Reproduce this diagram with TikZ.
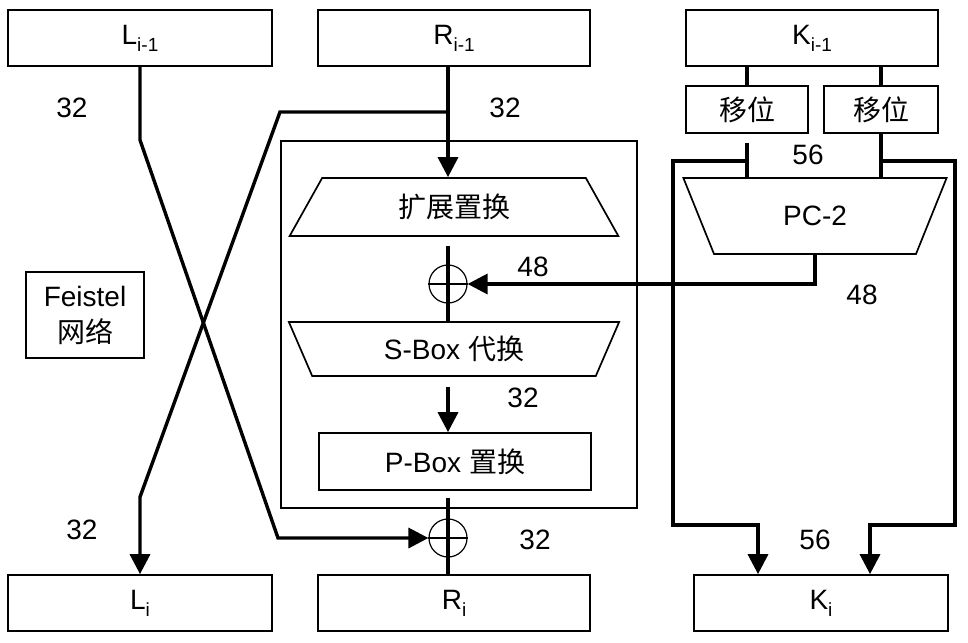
\documentclass[tikz,border=0pt]{standalone}
\usepackage{fontspec}
\setmainfont{Liberation Sans}
\newfontfamily\cjk{Noto Sans CJK SC}
\usetikzlibrary{arrows.meta,shapes.geometric}
\newcommand{\lbl}{\fontsize{28}{36}\selectfont}
\newcommand{\sbi}[1]{\raisebox{-7pt}{\fontsize{19}{19}\selectfont #1}}
\tikzset{
  box/.style={draw,line width=1.7pt,inner sep=0pt,font=\lbl},
  trap/.style={box,trapezium,trapezium stretches=true},
  wire/.style={line width=3.4pt},
  tip/.style={-{Triangle[width=20pt,length=20pt]}},
  num/.style={inner sep=0pt,font=\lbl},
  xor/.style={circle,draw,line width=1.2pt,minimum size=38pt,inner sep=0pt}
}

\begin{document}
\begin{tikzpicture}[x=1pt,y=-1pt]
  \useasboundingbox (0,0) rectangle (968,642);
  % halves and key
  \node[box,minimum width=264pt,minimum height=56pt] (Lprev) at (140,38) {L\sbi{i-1}};
  \node[box,minimum width=272pt,minimum height=56pt] (Rprev) at (454,38) {R\sbi{i-1}};
  \node[box,minimum width=252pt,minimum height=56pt] (Kprev) at (812,38) {K\sbi{i-1}};
  \node[box,minimum width=264pt,minimum height=56pt] (Li) at (140,603) {L\sbi{i}};
  \node[box,minimum width=272pt,minimum height=56pt] (Ri) at (454,603) {R\sbi{i}};
  \node[box,minimum width=254pt,minimum height=56pt] (Ki) at (821,603) {K\sbi{i}};
  \node[box,minimum width=118pt,minimum height=86pt,align=center] (feis) at (85,315) {Feistel\\{\cjk 网络}};
  % round function
  \node[box,minimum width=356pt,minimum height=367pt] (rnd) at (459,324.5) {};
  \node[trap,minimum width=329pt,minimum height=58pt,trapezium angle=62] (exp) at (454,207) {\cjk 扩展置换};
  \node[trap,shape border rotate=180,minimum width=331pt,minimum height=54pt,trapezium angle=66] (sbox) at (454,349) {S-Box {\cjk 代换}};
  \node[box,minimum width=272pt,minimum height=57pt] (pbox) at (455,461.5) {P-Box {\cjk 置换}};
  \node[xor] (xa) at (448,284) {};
  \node[xor] (xb) at (448,538) {};
  \draw[line width=1.2pt] (xa.west) -- (xa.east);
  \draw[line width=1.2pt] (xb.west) -- (xb.east);
  % key schedule
  \node[box,minimum width=122pt,minimum height=47pt] (shL) at (747,109.5) {\cjk 移位};
  \node[box,minimum width=114pt,minimum height=47pt] (shR) at (881,109.5) {\cjk 移位};
  \node[trap,shape border rotate=180,minimum width=264pt,minimum height=76pt,trapezium angle=64] (pc2) at (815,216) {PC-2};

  % cross-over
  \coordinate (rb) at (448,112);
  \coordinate (r1) at (280,112);
  \coordinate (r2) at (140,497);
  \coordinate (l1) at (140,140);
  \coordinate (l2) at (278,538);
  \draw[wire,tip] (Rprev.south -| xa) -- (exp.north -| xa);
  \draw[wire,tip] (rb) -- (r1) -- (r2) -- (r2 |- Li.north);
  \draw[wire,tip] (Lprev.south) -- (l1) -- (l2) -- (xb.west);
  \draw[wire] ([yshift=-9pt]exp.south -| xa) -- (sbox.north -| xa);
  \draw[wire,tip] (pc2.south) -- (pc2.south |- xa) -- (xa.east);
  \draw[wire,tip] ([yshift=-10pt]sbox.south -| xa) -- (pbox.north -| xa);
  \draw[wire] ([yshift=-7pt]pbox.south -| xa) -- (Ri.north -| xa);

  \coordinate (kl) at (673,161);
  \coordinate (kl2) at (673,525);
  \coordinate (kl3) at (758,525);
  \coordinate (kr) at (955,161);
  \coordinate (kr2) at (955,525);
  \coordinate (kr3) at (870,525);
  \draw[wire] (Kprev.south -| shL) -- (shL.north);
  \draw[wire] (Kprev.south -| shR) -- (shR.north);
  \draw[wire] ([yshift=-9pt]shL.south) -- (pc2.north -| shL);
  \draw[wire] (shR.south) -- (pc2.north -| shR);
  \draw[wire,tip] (shL.south |- kl) -- (kl) -- (kl2) -- (kl3) -- (kl3 |- Ki.north);
  \draw[wire,tip] (shR.south |- kr) -- (kr) -- (kr2) -- (kr3) -- (kr3 |- Ki.north);

  % widths
  \node[num] (w1) at (72,108) {32};
  \node[num] (w2) at (505,108) {32};
  \node[num] (w3) at (808,155) {56};
  \node[num] (w4) at (533,267) {48};
  \node[num] (w5) at (862,295) {48};
  \node[num] (w6) at (523,398) {32};
  \node[num] (w7) at (82,530) {32};
  \node[num] (w8) at (535,540) {32};
  \node[num] (w9) at (815,540) {56};
\end{tikzpicture}
\end{document}
